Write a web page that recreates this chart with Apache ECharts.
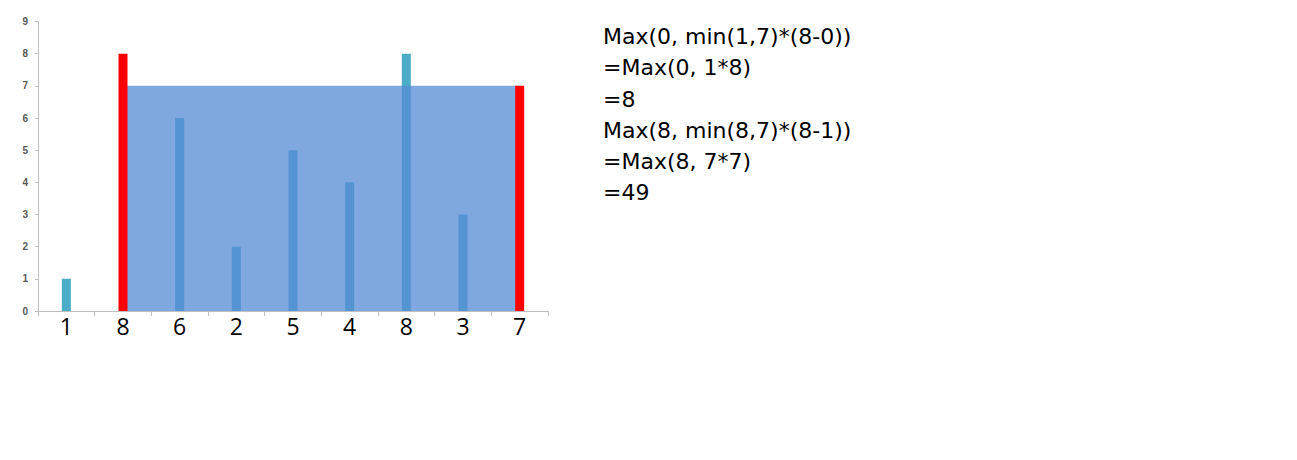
<!DOCTYPE html>
<html>
<head>
<meta charset="utf-8">
<script src="https://cdn.jsdelivr.net/npm/echarts@6/dist/echarts.min.js"></script>
<style>
html,body{margin:0;padding:0;background:#fff;}
#chart{width:1297px;height:460px;}
</style>
</head>
<body>
<div id="chart"></div>
<script>
// ---- data ----
var categories = ['1', '8', '6', '2', '5', '4', '8', '3', '7'];
var heights = [1, 8, 6, 2, 5, 4, 8, 3, 7];
var leftWall = 1;
var rightWall = 8;
var yTicks = [0, 1, 2, 3, 4, 5, 6, 7, 8, 9];
var noteLines = [
  'Max(0, min(1,7)*(8-0))',
  '=Max(0, 1*8)',
  '=8',
  'Max(8, min(8,7)*(8-1))',
  '=Max(8, 7*7)',
  '=49'
];

// ---- derived series ----
var level = Math.min(heights[leftWall], heights[rightWall]);
var tealData = heights.map(function (v, i) { return (i === leftWall || i === rightWall) ? null : v; });
var redData = heights.map(function (v, i) { return (i === leftWall || i === rightWall) ? v : null; });
var waterData = heights.map(function (v, i) { return (i >= leftWall && i <= rightWall) ? level : null; });

var chart = echarts.init(document.getElementById('chart'), null, {renderer: 'svg'});
chart.setOption({
  animation: false,
  backgroundColor: '#ffffff',
  title: {
    text: noteLines.join('\n'),
    left: 603,
    top: 21,
    padding: 0,
    textStyle: {
      fontFamily: 'DejaVu Sans',
      fontSize: 22,
      fontWeight: 'normal',
      color: '#000000',
      lineHeight: 31.2
    }
  },
  grid: {left: 38, right: 749, top: 21.5, bottom: 149, containLabel: false},
  xAxis: {
    type: 'category',
    data: categories,
    axisLine: {lineStyle: {color: '#bfbfbf', width: 1}},
    axisTick: {show: true, length: 5, lineStyle: {color: '#bfbfbf'}},
    axisLabel: {
      fontFamily: 'Open Sans',
      fontSize: 23,
      color: '#000000',
      margin: 3
    },
    splitLine: {show: false}
  },
  yAxis: {
    type: 'value',
    min: yTicks[0],
    max: yTicks[yTicks.length - 1],
    interval: 1,
    axisLine: {show: true, lineStyle: {color: '#bfbfbf', width: 1}},
    axisTick: {show: true, length: 3, lineStyle: {color: '#bfbfbf'}},
    axisLabel: {
      fontFamily: 'Liberation Sans',
      fontSize: 10,
      fontWeight: 'bold',
      color: '#595959',
      margin: 10
    },
    splitLine: {show: false}
  },
  series: [
    {
      type: 'bar',
      data: tealData,
      barWidth: 9,
      barGap: '-100%',
      itemStyle: {color: '#4bacc6'},
      z: 2
    },
    {
      type: 'line',
      data: waterData,
      symbol: 'none',
      lineStyle: {width: 0, opacity: 0},
      areaStyle: {color: 'rgba(88,140,215,0.77)', opacity: 1},
      z: 3
    },
    {
      type: 'bar',
      data: redData,
      barWidth: 9,
      barGap: '-100%',
      itemStyle: {color: '#ff0000'},
      z: 4
    }
  ]
});
</script>
</body>
</html>
